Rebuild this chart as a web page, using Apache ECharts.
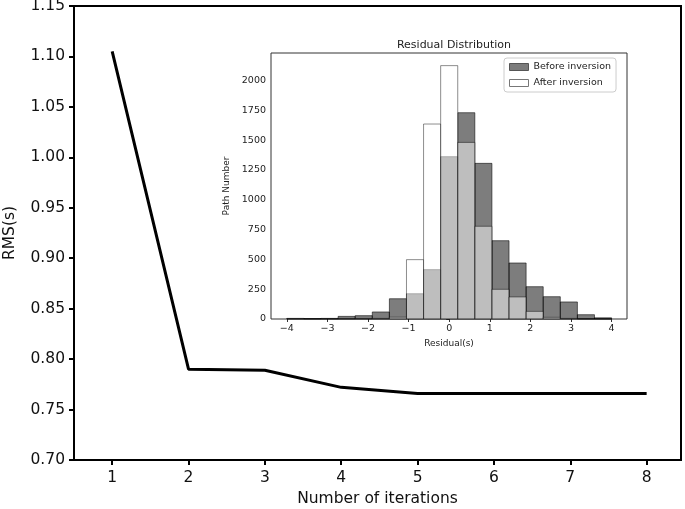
<!DOCTYPE html>
<html><head><meta charset="utf-8">
<script src="https://cdn.jsdelivr.net/npm/echarts@6/dist/echarts.min.js"></script>
<style>html,body{margin:0;padding:0;background:#fff}#c{width:685px;height:509px}</style>
</head><body><div id="c"></div>
<script>
// Main line data
const iterations = [1, 2, 3, 4, 5, 6, 7, 8];
const rms = [1.105, 0.790, 0.789, 0.772, 0.766, 0.766, 0.766, 0.766];
const mainYTicks = [0.70, 0.75, 0.80, 0.85, 0.90, 0.95, 1.00, 1.05, 1.10, 1.15];

// Inset histogram: 19 bins between -4 and 4
const binStart = -4, binEnd = 4, binCount = 19;
const beforeCounts = [5, 4, 5, 22, 28, 59, 170, 212, 414, 1362, 1731, 1306, 657, 470, 271, 187, 143, 36, 10];
const afterCounts  = [2, 0, 1, 2, 3, 5, 15, 498, 1636, 2126, 1482, 778, 249, 185, 64, 14, 5, 0, 0];
const insetXTicks = [-4, -3, -2, -1, 0, 1, 2, 3, 4];
const insetYTicks = [0, 250, 500, 750, 1000, 1250, 1500, 1750, 2000];

const binW = (binEnd - binStart) / binCount;
function binData(counts) {
  return counts.map((c, k) => [binStart + k * binW, binStart + (k + 1) * binW, c]);
}
function rectItem(fill, stroke) {
  return function (params, api) {
    const p0 = api.coord([api.value(0), api.value(2)]);
    const p1 = api.coord([api.value(1), 0]);
    return {
      type: 'rect',
      shape: { x: p0[0], y: p0[1], width: p1[0] - p0[0], height: p1[1] - p0[1] },
      style: { fill: fill, stroke: stroke, lineWidth: 1 }
    };
  };
}
const F = 'DejaVu Sans';
const minus = v => String(v).replace('-', '\u2212');

const chart = echarts.init(document.getElementById('c'), null, { renderer: 'canvas' });
chart.setOption({
  animation: false,
  backgroundColor: '#fff',
  textStyle: { fontFamily: F },
  title: {
    text: 'Residual Distribution', left: 449, top: 35, textAlign: 'center', z: 10,
    textStyle: { fontFamily: F, fontSize: 11, fontWeight: 'normal', color: '#222' }
  },
  legend: {
    left: 504, top: 58, orient: 'vertical', z: 20,
    itemWidth: 19, itemHeight: 7, itemGap: 6,
    padding: [4, 5, 4, 5],
    borderColor: '#ccc', borderWidth: 1, borderRadius: 3, backgroundColor: '#fff',
    textStyle: { fontFamily: F, fontSize: 9.5, color: '#222' },
    data: [
      { name: 'Before inversion', icon: 'rect', itemStyle: { color: '#7c7c7c', borderColor: '#555', borderWidth: 1 } },
      { name: 'After inversion', icon: 'rect', itemStyle: { color: '#fff', borderColor: '#777', borderWidth: 1 } }
    ]
  },
  grid: [
    { left: 74, top: 6, right: 4, bottom: 49, outerBoundsMode: 'none', show: true, borderColor: '#000', borderWidth: 2, backgroundColor: 'transparent' },
    { left: 271, top: 53, right: 58, bottom: 190, outerBoundsMode: 'none', show: true, borderColor: '#333', borderWidth: 1, backgroundColor: '#fff', z: 5 }
  ],
  xAxis: [
    {
      gridIndex: 0, type: 'value', min: 0.5, max: 8.45,
      name: 'Number of iterations', nameLocation: 'middle', nameGap: 30,
      nameTextStyle: { fontFamily: F, fontSize: 15.5, color: '#111' },
      axisLine: { show: false }, splitLine: { show: false },
      axisTick: { show: true, length: 5, lineStyle: { color: '#000', width: 2 }, customValues: iterations },
      axisLabel: { fontFamily: F, fontSize: 15.5, color: '#111', margin: 10, customValues: iterations }
    },
    {
      gridIndex: 1, type: 'value', min: -4.39, max: 4.38,
      name: 'Residual(s)', nameLocation: 'middle', nameGap: 17,
      nameTextStyle: { fontFamily: F, fontSize: 9, color: '#222' },
      axisLine: { show: false }, splitLine: { show: false },
      axisTick: { show: true, length: 3, lineStyle: { color: '#333' }, customValues: insetXTicks },
      axisLabel: { fontFamily: F, fontSize: 9.5, color: '#222', margin: 5, customValues: insetXTicks, formatter: minus }
    }
  ],
  yAxis: [
    {
      gridIndex: 0, type: 'value', min: 0.70, max: 1.15,
      name: 'RMS(s)', nameLocation: 'middle', nameGap: 56, nameRotate: 90,
      nameTextStyle: { fontFamily: F, fontSize: 15.5, color: '#111' },
      axisLine: { show: false }, splitLine: { show: false },
      axisTick: { show: true, length: 5, lineStyle: { color: '#000', width: 2 }, customValues: mainYTicks },
      axisLabel: { fontFamily: F, fontSize: 15.5, color: '#111', margin: 9, customValues: mainYTicks, formatter: v => v.toFixed(2) }
    },
    {
      gridIndex: 1, type: 'value', min: 0, max: 2232,
      name: 'Path Number', nameLocation: 'middle', nameGap: 37, nameRotate: 90,
      nameTextStyle: { fontFamily: F, fontSize: 9, color: '#222' },
      axisLine: { show: false }, splitLine: { show: false },
      axisTick: { show: true, length: 3, lineStyle: { color: '#333' }, customValues: insetYTicks },
      axisLabel: { fontFamily: F, fontSize: 9.5, color: '#222', margin: 5, customValues: insetYTicks, formatter: v => String(v) }
    }
  ],
  series: [
    {
      type: 'line', xAxisIndex: 0, yAxisIndex: 0, name: 'RMS',
      data: iterations.map((x, i) => [x, rms[i]]),
      showSymbol: false, symbol: 'none',
      lineStyle: { color: '#000', width: 3 }, z: 2
    },
    {
      type: 'custom', name: 'Before inversion', xAxisIndex: 1, yAxisIndex: 1,
      data: binData(beforeCounts), encode: { x: [0, 1], y: 2 },
      renderItem: rectItem('rgba(0,0,0,0.51)', 'rgba(0,0,0,0.55)'),
      itemStyle: { color: '#7c7c7c' }, z: 6
    },
    {
      type: 'custom', name: 'After inversion', xAxisIndex: 1, yAxisIndex: 1,
      data: binData(afterCounts), encode: { x: [0, 1], y: 2 },
      renderItem: rectItem('rgba(255,255,255,0.5)', 'rgba(0,0,0,0.45)'),
      itemStyle: { color: '#fff' }, z: 7
    }
  ]
});
</script></body></html>
